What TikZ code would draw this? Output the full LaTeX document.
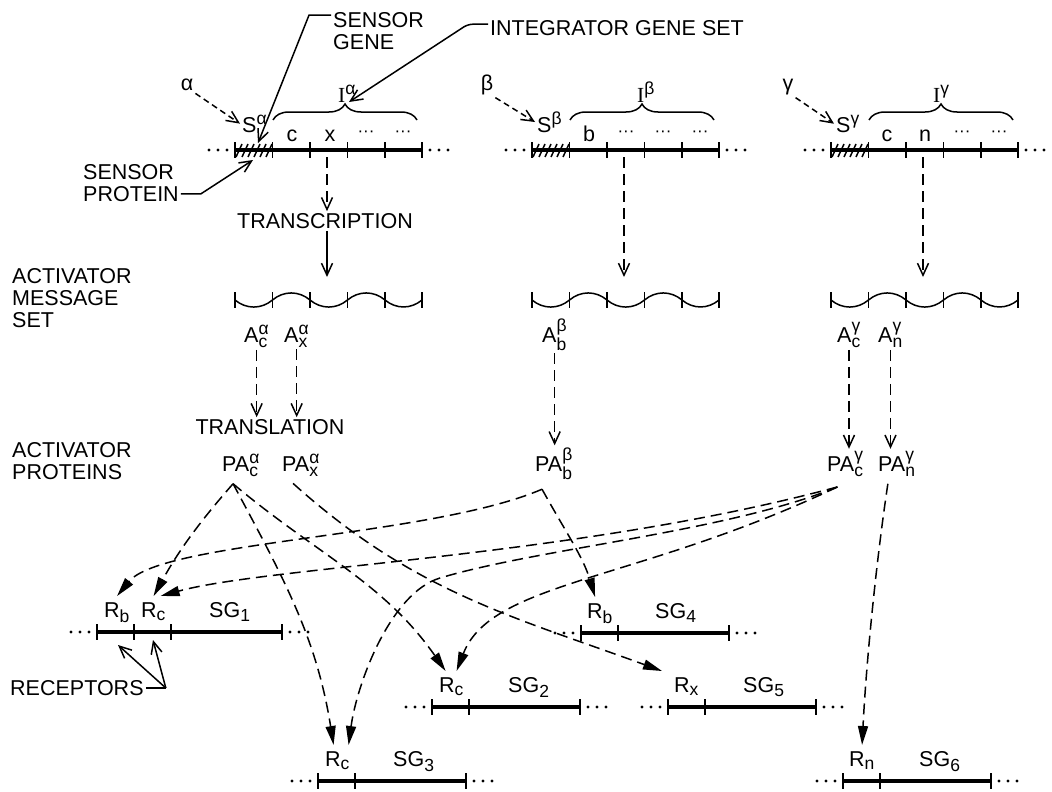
\documentclass[tikz,border=0pt]{standalone}
\usepackage{amsmath}
\usepackage{fontspec}
\setmainfont{Liberation Sans}
\newfontfamily\serifI{Liberation Serif}
\DeclareMathSizes{21.5}{21.5}{17.5}{13}
\usetikzlibrary{arrows.meta,decorations.pathreplacing}

\begin{document}
\begin{tikzpicture}[x=1pt,y=1pt,
  font=\fontsize{21.5}{22}\selectfont,
  every node/.style={inner sep=2pt},
  lbl/.style={anchor=base west},
  rec/.style={anchor=base west, inner ysep=6pt},
  gline/.style={line width=3.8pt},
  sgline/.style={line width=3.4pt},
  tline/.style={line width=1.5pt},
  dsh/.style={line width=1.5pt, dash pattern=on 11pt off 6pt},
  dshort/.style={line width=1.5pt, dash pattern=on 6pt off 4pt},
  open/.style={-{Straight Barb[length=12pt,width=11pt]}},
  fullhead/.style={-{Triangle[length=19pt,width=10pt]}}]
  \fill[white] (0,0) rectangle (1052,-792);
  \useasboundingbox (0,0) rectangle (1052,-792);

  \foreach \hx in {235,532,831}{
    \foreach \dd in {-26,-17,-8,195,204,213} \fill (\hx+\dd,-150) circle (1.6);
    \draw[gline] (\hx,-150) -- ++(187,0);
    \foreach \tk in {0,37.5,75,112.5,150,187} \draw[tline] (\hx+\tk,-142) -- ++(0,-16);
    \foreach \tk in {4,10,...,34} \draw[tline] (\hx+\tk-3,-157) -- ++(6,13);
    \draw[decorate, decoration={brace,amplitude=16pt}, tline] (\hx+38,-120) -- (\hx+182,-120);
    \draw[tline] (\hx,-300) to[bend right=40] ++(37.5,0) to[bend left=40] ++(37.5,0)
      to[bend right=40] ++(37.5,0) to[bend left=40] ++(37.5,0) to[bend right=40] ++(37,0);
    \foreach \tk in {0,37.5,75,112.5,150,187} \draw[tline] (\hx+\tk,-292) -- ++(0,-16);
    \foreach \tk in {131,168} \node[anchor=base] (dots\hx-\tk) at (\hx+\tk,-136) {\fontsize{17}{17}\selectfont ···};
  }

  \node[anchor=base] (srca) at (187,-91) {α};
  \node[anchor=base] (srcb) at (487,-91) {β};
  \node[anchor=base] (srcg) at (788,-91) {γ};
  \node[lbl] (sa) at (240,-132) {S$^{\text{α}}$};
  \node[lbl] (sb) at (535,-132) {S$^{\text{β}}$};
  \node[lbl] (sg) at (834,-132) {S$^{\text{γ}}$};
  \node[lbl] (ia) at (336,-102) {{\serifI I}$^{\text{α}}$};
  \node[lbl] (ib) at (635,-102) {{\serifI I}$^{\text{β}}$};
  \node[lbl] (ig) at (931,-102) {{\serifI I}$^{\text{γ}}$};
  \node[anchor=base] (gac) at (292,-141) {c};
  \node[anchor=base] (gax) at (330,-141) {x};
  \node[anchor=base] (gbb) at (589,-141) {b};
  \node[anchor=base] (dots626) at (626,-136) {\fontsize{17}{17}\selectfont ···};
  \node[anchor=base] (ggc) at (887,-141) {c};
  \node[anchor=base] (ggn) at (925,-141) {n};

  \draw[dshort,open] (srca.south east) -- (sa.west);
  \draw[dshort,open] (srcb.south east) -- (sb.west);
  \draw[dshort,open] (srcg.south east) -- (sg.west);

  \node[align=left, anchor=west] (sensgene) at (331,-31) {SENSOR\\GENE};
  \node[anchor=west] (intset) at (488,-28) {INTEGRATOR GENE SET};
  \node[align=left, anchor=west] (senprot) at (81,-183) {SENSOR\\PROTEIN};
  \coordinate (sgtip) at (258,-143);
  \coordinate (ibtip) at (349,-102);
  \coordinate (sptip) at (253,-160);
  \draw[tline,open] ([yshift=-5pt]sensgene.north west) -- ++(-22,0) -- (sgtip);
  \draw[tline,open,rounded corners=5pt] ([yshift=-6pt]intset.north west) -- ++(-20,0) -- (ibtip);
  \draw[tline,open] ([yshift=10pt]senprot.south east) -- ++(20,0) -- (sptip);

  \node (transcr) at (325,-221) {TRANSCRIPTION};
  \coordinate (ga) at (327,-157);
  \coordinate (wa) at (327,-277);
  \coordinate (gb) at (624,-157);
  \coordinate (wb) at (624,-277);
  \coordinate (gg) at (923,-157);
  \coordinate (wg) at (923,-277);
  \draw[dsh,open] (ga) -- (ga |- transcr.north);
  \draw[tline,open] (ga |- transcr.south) -- (wa);
  \draw[dsh,open] (gb) -- (wb);
  \draw[dsh,open] (gg) -- (wg);

  \node[align=left, anchor=west] (msgset) at (10,-298) {ACTIVATOR\\MESSAGE\\SET};
  \node[align=left, anchor=west] (actprot) at (10,-461) {ACTIVATOR\\PROTEINS};

  \node[lbl] (aac) at (242,-342) {A$^{\text{α}}_{\text{c}}$};
  \node[lbl] (aax) at (282,-342) {A$^{\text{α}}_{\text{x}}$};
  \node[lbl] (abb) at (540,-342) {A$^{\text{β}}_{\text{b}}$};
  \node[lbl] (agc) at (835,-342) {A$^{\text{γ}}_{\text{c}}$};
  \node[lbl] (agn) at (876,-342) {A$^{\text{γ}}_{\text{n}}$};

  \node (transl) at (270,-427) {TRANSLATION};
  \node[lbl] (pac) at (220,-471) {PA$^{\text{α}}_{\text{c}}$};
  \node[lbl] (pax) at (280,-471) {PA$^{\text{α}}_{\text{x}}$};
  \node[lbl] (pbb) at (533,-471) {PA$^{\text{β}}_{\text{b}}$};
  \node[lbl] (pgc) at (825,-471) {PA$^{\text{γ}}_{\text{c}}$};
  \node[lbl] (pgn) at (876,-471) {PA$^{\text{γ}}_{\text{n}}$};

  \draw[dsh,open] (aac) -- (aac |- transl.north);
  \draw[dsh,open] (aax) -- (aax |- transl.north);
  \draw[dsh,open] (abb) -- (abb |- pbb.north);
  \draw[dsh,open] (agc) -- (agc |- pgc.north);
  \draw[dsh,open] (agn) -- (agn |- pgn.north);

  \foreach \sx/\sy/\nr in {97/632/2, 432/707/1, 318/781/1, 581/633/1, 668/707/1, 843/781/1}{
    \pgfmathsetmacro\sgend{\sx+37*\nr+111}
    \foreach \dd in {-26,-17,-8} \fill (\sx+\dd,-\sy) circle (1.6);
    \foreach \dd in {8,17,26} \fill (\sgend+\dd,-\sy) circle (1.6);
    \draw[sgline] (\sx,-\sy) -- (\sgend,-\sy);
    \foreach \tk in {0,...,\nr} \draw[tline] (\sx+37*\tk,-\sy+8) -- ++(0,-16);
    \draw[tline] (\sgend,-\sy+8) -- ++(0,-16);
  }

  \node[rec] (rb1) at (102,-617) {R$_{\text{b}}$};
  \node[rec] (rc1) at (139,-617) {R$_{\text{c}}$};
  \node[lbl] (sg1) at (207,-617) {SG$_{\text{1}}$};
  \node[rec] (rc2) at (437,-692) {R$_{\text{c}}$};
  \node[lbl] (sg2) at (506,-692) {SG$_{\text{2}}$};
  \node[rec] (rc3) at (323,-766) {R$_{\text{c}}$};
  \node[lbl] (sg3) at (391,-766) {SG$_{\text{3}}$};
  \node[rec] (rb4) at (585,-618) {R$_{\text{b}}$};
  \node[lbl] (sg4) at (653,-618) {SG$_{\text{4}}$};
  \node[rec] (rx5) at (672,-692) {R$_{\text{x}}$};
  \node[lbl] (sg5) at (741,-692) {SG$_{\text{5}}$};
  \node[rec] (rn6) at (847,-766) {R$_{\text{n}}$};
  \node[lbl] (sg6) at (917,-766) {SG$_{\text{6}}$};

  \node[anchor=west] (recep) at (8,-688) {RECEPTORS};
  \coordinate (rt1) at (118,-645);
  \coordinate (rt2) at (153,-640);
  \draw[tline] (recep.east) -- ++(20,0) coordinate (rk);
  \draw[tline,open] (rk) -- (rt1);
  \draw[tline,open] (rk) -- (rt2);

  \coordinate (pac-o) at ([xshift=-8pt,yshift=-5pt]pac.south);
  \coordinate (pax-o) at ([xshift=-8pt,yshift=-5pt]pax.south);
  \coordinate (pbb-o) at ([xshift=-12pt,yshift=-7pt]pbb.south);
  \coordinate (pgc-o) at ([xshift=-8pt,yshift=-8pt]pgc.south);
  \coordinate (pgn-o) at ([xshift=-9pt,yshift=-5pt]pgn.south);

  \draw[dsh,fullhead] (pac-o) .. controls +(-35,-40) and +(25,45) .. (rc1.north);
  \draw[dsh,fullhead] (pac-o) .. controls +(51,-95) and +(-17,107) .. ([xshift=-4pt]rc3.north);
  \draw[dsh,fullhead] (pac-o) .. controls +(83,-70) and +(-62,89) .. ([xshift=-6pt]rc2.north);
  \draw[dsh,fullhead] (pax-o) .. controls +(120,-108) and +(-151,55) .. ([xshift=-10pt]rx5.north west);
  \draw[dsh,fullhead] (pbb-o) .. controls +(25,-45) and +(-12,40) .. ([xshift=-5pt]rb4.north);
  \draw[dsh,fullhead] (pbb-o) .. controls +(-112,-48) and +(45,55) .. (rb1.north);
  \draw[dsh,fullhead] (pgc-o) .. controls +(-260,-70) and +(110,30) .. ([xshift=7pt]rc1.north);
  \draw[dsh,fullhead] (pgc-o) .. controls +(-110,-45) and +(100,30) .. (440,-578)
    .. controls +(-50,-15) and +(8,60) .. ([xshift=11pt]rc3.north);
  \draw[dsh,fullhead] (pgc-o) .. controls +(-200,-95) and +(35,90) .. ([xshift=5pt]rc2.north);
  \draw[dsh,fullhead] (pgn-o) .. controls +(-12,-80) and +(4,80) .. (rn6.north);
\end{tikzpicture}
\end{document}
